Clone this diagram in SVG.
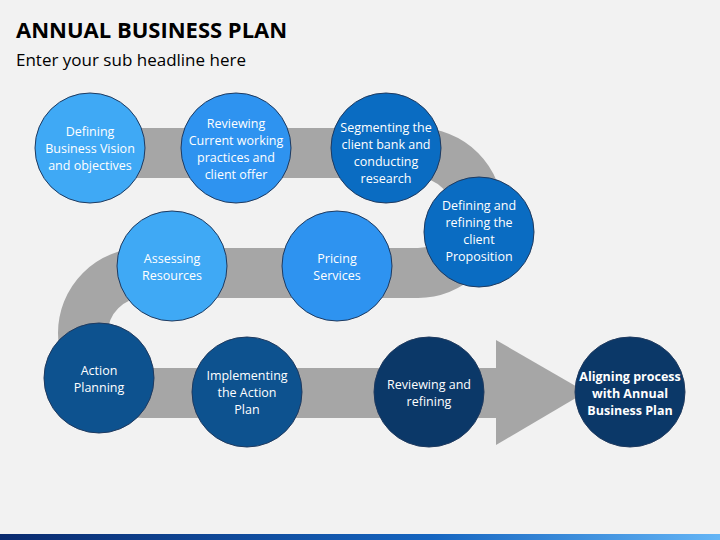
<svg xmlns="http://www.w3.org/2000/svg" width="720" height="540" viewBox="0 0 720 540">
<defs>
<style>
.n{stroke:#1f3a5f;stroke-width:1}
.t{font-family:"Open Sans","Liberation Sans",sans-serif;font-size:12.5px;fill:#fff;text-anchor:middle}
.b{font-weight:bold}
</style>
<linearGradient id="ft" x1="0" x2="1"><stop offset="0" stop-color="#0a2a6e"/><stop offset="0.6" stop-color="#1565c0"/><stop offset="1" stop-color="#64b5f6"/></linearGradient>
</defs>
<rect width="720" height="540" fill="#f2f2f2"/>
<text x="16" y="38" font-family="'Open Sans','Liberation Sans',sans-serif" font-size="22" font-weight="bold" fill="#000">ANNUAL BUSINESS PLAN</text>
<text x="16" y="66" font-family="'Open Sans','Liberation Sans',sans-serif" font-size="17" fill="#000">Enter your sub headline here</text>
<rect x="0" y="534" width="720" height="6" fill="url(#ft)"/>
<g id="connectors">
<path d="M90 153 H418 A60 60 0 0 1 418 273 H143 A60 60 0 0 0 143 393 H500" fill="none" stroke="#a6a6a6" stroke-width="50"/>
<polygon points="496,340 586,392 496,445" fill="#a6a6a6"/>
</g>
<g id="n1"><circle class="n" cx="90" cy="148" r="55" fill="#3fa9f5"/><text class="t"><tspan x="90" y="136">Defining</tspan><tspan x="90" y="153">Business Vision</tspan><tspan x="90" y="170">and objectives</tspan></text></g>
<g id="n2"><circle class="n" cx="236" cy="148" r="55" fill="#2e93f0"/><text class="t"><tspan x="236" y="128">Reviewing</tspan><tspan x="236" y="145">Current working</tspan><tspan x="236" y="162">practices and</tspan><tspan x="236" y="179">client offer</tspan></text></g>
<g id="n3"><circle class="n" cx="386" cy="148" r="55" fill="#0a6cc2"/><text class="t"><tspan x="386" y="132">Segmenting the</tspan><tspan x="386" y="149">client bank and</tspan><tspan x="386" y="166">conducting</tspan><tspan x="386" y="183">research</tspan></text></g>
<g id="n4"><circle class="n" cx="479" cy="232" r="55" fill="#0a6cc2"/><text class="t"><tspan x="479" y="210">Defining and</tspan><tspan x="479" y="227">refining the</tspan><tspan x="479" y="244">client</tspan><tspan x="479" y="261">Proposition</tspan></text></g>
<g id="n5"><circle class="n" cx="172" cy="266" r="55" fill="#3fa9f5"/><text class="t"><tspan x="172" y="263">Assessing</tspan><tspan x="172" y="280">Resources</tspan></text></g>
<g id="n6"><circle class="n" cx="337" cy="266" r="55" fill="#2e93f0"/><text class="t"><tspan x="337" y="263">Pricing</tspan><tspan x="337" y="280">Services</tspan></text></g>
<g id="n7"><circle class="n" cx="99" cy="378" r="55" fill="#0d528f"/><text class="t"><tspan x="99" y="375">Action</tspan><tspan x="99" y="392">Planning</tspan></text></g>
<g id="n8"><circle class="n" cx="247" cy="392" r="55" fill="#0d528f"/><text class="t"><tspan x="247" y="380">Implementing</tspan><tspan x="247" y="397">the Action</tspan><tspan x="247" y="414">Plan</tspan></text></g>
<g id="n9"><circle class="n" cx="429" cy="392" r="55" fill="#0b3868"/><text class="t"><tspan x="429" y="389">Reviewing and</tspan><tspan x="429" y="406">refining</tspan></text></g>
<g id="n10"><circle class="n" cx="630" cy="392" r="55" fill="#0b3868"/><text class="t b"><tspan x="630" y="381">Aligning process</tspan><tspan x="630" y="398">with Annual</tspan><tspan x="630" y="415">Business Plan</tspan></text></g>
</svg>
